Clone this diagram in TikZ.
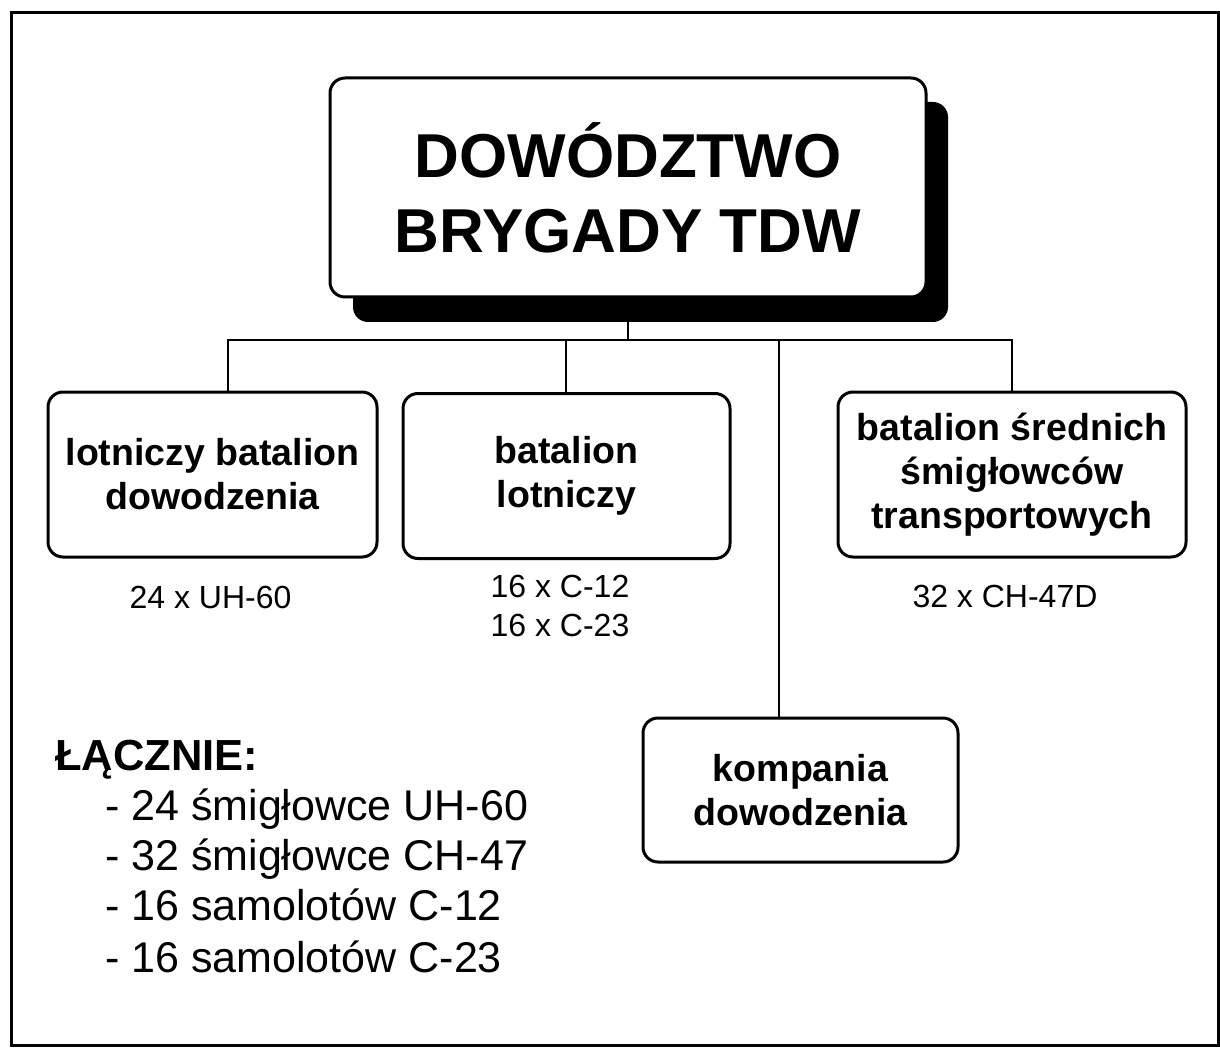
\documentclass[tikz,border=0pt]{standalone}
\usepackage{fontspec}
\setmainfont{Liberation Sans}
\begin{document}
\begin{tikzpicture}[x=1pt,y=-1pt,
  unitbox/.style={draw, line width=3pt, rounded corners=15pt, fill=white, inner sep=0pt, align=center,
    font=\fontsize{37.5}{44}\selectfont\bfseries},
  conn/.style={line width=1.5pt},
  cnt/.style={font=\fontsize{32}{39}\selectfont, align=center, inner sep=0pt},
  listitem/.style={font=\fontsize{43}{50}\selectfont, anchor=base west, inner sep=0pt}]
\useasboundingbox (0,0) rectangle (1220,1048);
\draw[line width=3pt] (11,13) rectangle (1218,1045);
% main box with shadow
\fill[rounded corners=15pt] (353,102) rectangle (948,322);
\node[unitbox, minimum width=596pt, minimum height=219pt,
  font=\fontsize{62}{75}\selectfont\bfseries] (main) at (628,187.5) {DOWÓDZTWO\\BRYGADY TDW};
% subordinate boxes
\node[unitbox, minimum width=329pt, minimum height=165pt] (b1) at (212.5,474.5) {lotniczy batalion\\dowodzenia};
\node[unitbox, minimum width=327pt, minimum height=165pt] (b2) at (566.5,476) {batalion\\lotniczy};
\node[unitbox, minimum width=348pt, minimum height=165pt] (b3) at (1012,474.5) {batalion średnich\\śmigłowców\\transportowych};
\node[unitbox, minimum width=315pt, minimum height=144pt] (b4) at (800.5,790) {kompania\\dowodzenia};
% connectors
\coordinate (top) at (628,322);
\coordinate (bus) at (628,340);
\coordinate (bl) at (228,340);
\coordinate (br) at (1012,340);
\coordinate (t2) at (566,340);
\coordinate (t4) at (779,340);
\draw[conn] (top) -- (bus);
\draw[conn] (bl |- b1.north) -- (bl) -- (br) -- (b3.north);
\draw[conn] (t2) -- (t2 |- b2.north);
\draw[conn] (t4) -- (t4 |- b4.north);
% counts
\node[cnt] (c1) at (210.5,597) {24 x UH-60};
\node[cnt] (c2) at (560,605.5) {16 x C-12\\16 x C-23};
\node[cnt] (c3) at (1005,596) {32 x CH-47D};
% summary
\node[font=\fontsize{43.5}{50}\selectfont\bfseries, anchor=base west, inner sep=0pt] (sum) at (55,770) {ŁĄCZNIE:};
\node[listitem] (l1) at (105,820) {- 24 śmigłowce UH-60};
\node[listitem] (l2) at (105,870) {- 32 śmigłowce CH-47};
\node[listitem] (l3) at (105,920) {- 16 samolotów C-12};
\node[listitem] (l4) at (105,972) {- 16 samolotów C-23};
\end{tikzpicture}
\end{document}
